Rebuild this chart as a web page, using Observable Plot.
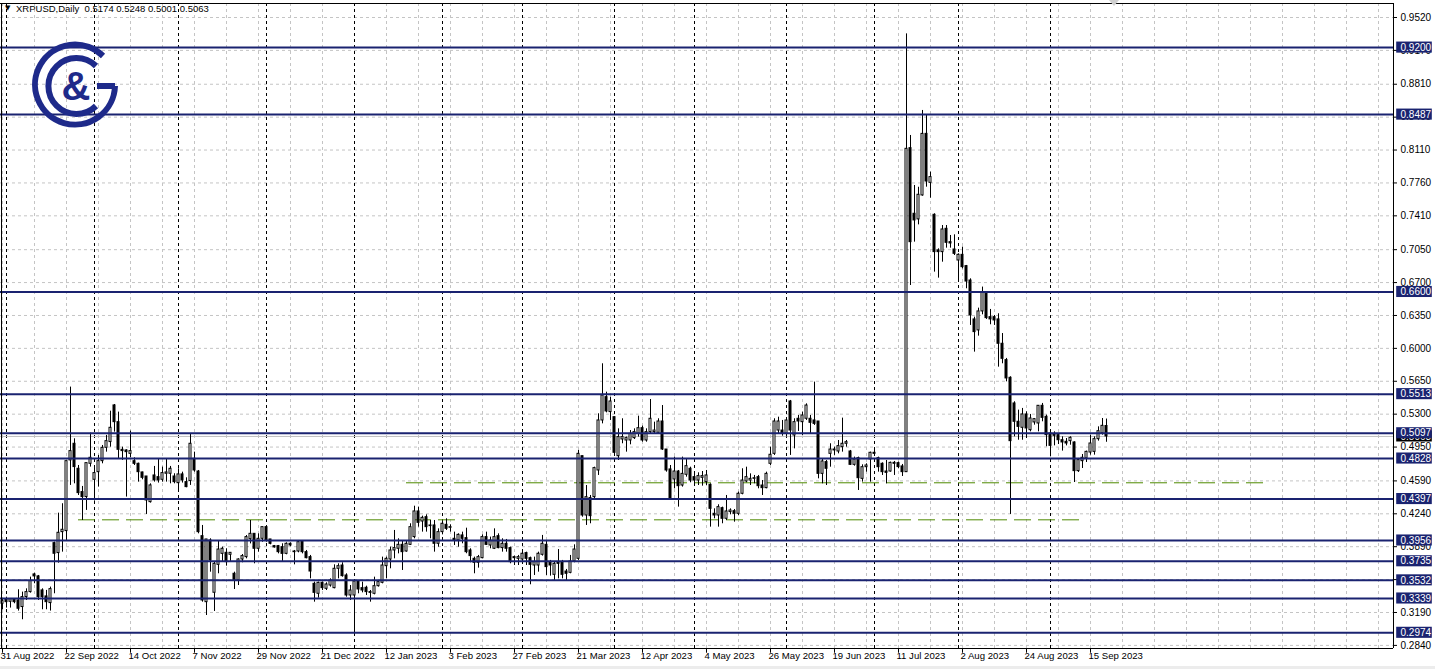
<!DOCTYPE html>
<html><head><meta charset="utf-8">
<script src="https://cdn.jsdelivr.net/npm/d3@7"></script>
<script src="https://cdn.jsdelivr.net/npm/@observablehq/plot@0.6"></script>
<style>
body{margin:0;background:#fff;}
#wrap{position:relative;width:1435px;height:669px;overflow:hidden;background:#fff;}
#hdr{position:absolute;left:16px;top:3px;font:9.5px "Liberation Sans",Arial,sans-serif;color:#000;white-space:pre;}
#tri{position:absolute;left:5px;top:4px;font:7px "DejaVu Sans",sans-serif;color:#000;}
#strip{position:absolute;left:0;top:666px;width:1435px;height:3px;background:#ececec;}
svg.ov{position:absolute;left:0;top:0;pointer-events:none;}
</style></head>
<body><div id="wrap"><div id="chart"></div><div id="strip"></div>
<div id="tri">▼</div>
<div id="hdr">XRPUSD,Daily  0.5174 0.5248 0.5001 0.5063</div>
<svg class="ov" width="1435" height="669">
  <g fill="none" stroke="#1e2a8a" stroke-width="6">
    <path d="M 103 56 A 40 40 0 1 0 115 86"/>
    <line x1="115" y1="86" x2="97" y2="86"/>
    <path d="M 96 66 A 28 28 0 1 0 96 106"/>
  </g>
  <text x="76" y="100" text-anchor="middle" font-family="Liberation Sans, Arial" font-weight="bold" font-size="40" fill="#1e2a8a">&amp;</text>
  <polygon points="1109,0 1119,0 1114,6" fill="#cfcfcf"/>
</svg>
</div>
<script>
// ---------- DATA ----------
const symbol = "XRPUSD,Daily";
const xLabels = ["31 Aug 2022","22 Sep 2022","14 Oct 2022","7 Nov 2022","29 Nov 2022","21 Dec 2022","12 Jan 2023","3 Feb 2023","27 Feb 2023","21 Mar 2023","12 Apr 2023","4 May 2023","26 May 2023","19 Jun 2023","11 Jul 2023","2 Aug 2023","24 Aug 2023","15 Sep 2023"];
const xLabelBars = [0,16,32,48,64,80,96,112,128,144,160,176,192,208,224,240,256,272];
const monthStartBars = [1,23,44,66,88,110,130,153,173,196,218,239,262];
const yTicks = [0.9520,0.9170,0.8810,0.8460,0.8110,0.7760,0.7410,0.7050,0.6700,0.6350,0.6000,0.5650,0.5300,0.4950,0.4590,0.4240,0.3890,0.3540,0.3190,0.2840];
const levels = [0.9200,0.8487,0.6600,0.5513,0.5097,0.4828,0.4397,0.3956,0.3735,0.3532,0.3339,0.2974];
const greenPrices = [0.4570,0.4176];
const greenFrom = [101,19];
const greenTo = [316,270];

const open = [
.3283,.3325,.3304,.3325,.3318,.3248,.3354,.3407,.3595,.3574,.3425,.3361,.3290,.3928,.3822,.4045,.4056,.4808,.4985,.4719,
.4471,.4418,.4772,.4602,.4683,.4800,.4942,.5003,.5393,.5215,.4921,.4914,.4878,.4800,.4772,.4680,.4637,.4364,.4648,.4630,
.4602,.4666,.4666,.4637,.4566,.4659,.4577,.4588,.4825,.4690,.4002,.3300,.3956,.3400,.3697,.3814,.3825,.3804,.3602,.3531,
.3754,.3779,.3970,.4027,.3868,.3974,.4098,.3967,.3896,.3896,.3885,.3814,.3921,.3839,.3839,.3946,.3832,.3779,.3495,.3389,
.3506,.3442,.3477,.3449,.3655,.3690,.3584,.3371,.3371,.3520,.3449,.3453,.3407,.3389,.3470,.3506,.3683,.3754,.3850,.3868,
.3910,.3839,.3910,.3992,.4265,.4158,.4204,.4109,.4116,.3921,.4045,.4123,.4091,.3974,.3956,.4010,.3981,.3850,.3761,.3719,
.3768,.3992,.3903,.3868,.4002,.3875,.3921,.3875,.3779,.3761,.3754,.3822,.3768,.3690,.3690,.3804,.3910,.3726,.3591,.3726,
.3726,.3626,.3612,.3733,.3761,.4853,.4222,.4407,.4417,.4701,.5233,.5481,.5322,.5268,.4853,.5031,.5020,.5020,.5045,.5091,
.5151,.5020,.5109,.5109,.5102,.5222,.4924,.4712,.4605,.4690,.4541,.4655,.4719,.4630,.4594,.4623,.4577,.4548,.4240,.4222,
.4300,.4187,.4258,.4268,.4240,.4453,.4584,.4594,.4612,.4630,.4541,.4513,.4772,.4878,.5126,.5126,.5091,.5435,.5073,.5251,
.5215,.5251,.5251,.5233,.5222,.4665,.4790,.4878,.4914,.4903,.4949,.4985,.4903,.4761,.4832,.4612,.4736,.4818,.4889,.4832,
.4772,.4690,.4690,.4782,.4779,.4744,.4683,.8130,.7432,.7372,.7627,.8282,.7761,.7421,.7042,.7024,.7272,.7130,.7052,.6935,
.6995,.6875,.6722,.6308,.6191,.6393,.6580,.6332,.6332,.6308,.6049,.5875,.5687,.5414,.5219,.5155,.5297,.5130,.5212,.5201,
.5389,.5272,.5094,.5084,.5077,.5023,.5006,.5013,.4999,.4694,.4800,.4829,.4892,.4899,.5034,.5095,.5174];
const high = [
.3336,.3353,.3339,.3332,.3432,.3407,.3442,.3566,.3609,.3584,.3442,.3425,.3460,.3939,.4247,.4347,.4800,.5588,.5038,.4754,
.4531,.4779,.5098,.4737,.4861,.4967,.5074,.5332,.5403,.5322,.4949,.4921,.5120,.4836,.4779,.4683,.4637,.4559,.4744,.4825,
.4737,.4825,.4744,.4666,.4719,.4683,.4623,.5084,.4896,.4701,.4116,.3967,.3974,.3726,.3956,.3885,.3868,.3825,.3619,.3761,
.3807,.4009,.4169,.4027,.4027,.4098,.4109,.3967,.3903,.3903,.3921,.3931,.3931,.3850,.3956,.3956,.3850,.3797,.3513,.3513,
.3513,.3506,.3548,.3697,.3708,.3719,.3602,.3477,.3520,.3520,.3513,.3470,.3424,.3566,.3520,.3779,.3779,.3885,.4063,.3974,
.3946,.3946,.4134,.4321,.4311,.4215,.4229,.4169,.4169,.4080,.4151,.4187,.4123,.4045,.4027,.4045,.4087,.3868,.3779,.3797,
.4016,.4045,.3992,.4080,.4027,.3974,.3967,.3885,.3790,.3797,.3832,.3832,.3779,.3779,.3832,.4010,.3956,.3744,.3726,.3860,
.3744,.3648,.3797,.3910,.4914,.4853,.4541,.4435,.4736,.5304,.5836,.5534,.5481,.5268,.5144,.5251,.5056,.5126,.5144,.5279,
.5173,.5144,.5456,.5215,.5251,.5392,.4924,.4754,.4843,.4701,.4843,.4818,.4736,.4665,.4676,.4690,.4701,.4559,.4293,.4336,
.4311,.4435,.4293,.4286,.4471,.4719,.4736,.4665,.4648,.4648,.4594,.4683,.4949,.5251,.5268,.5233,.5251,.5446,.5251,.5286,
.5321,.5410,.5286,.5641,.5222,.4825,.4807,.4985,.4949,.5020,.5258,.5020,.4914,.4843,.4843,.4761,.4772,.4896,.4931,.4843,
.4782,.4807,.4790,.4797,.4790,.4765,.9346,.8265,.7733,.7714,.8531,.8477,.7875,.7432,.7059,.7307,.7307,.7201,.7208,.7006,
.7077,.6882,.6740,.6332,.6428,.6652,.6598,.6414,.6350,.6368,.6158,.5893,.5698,.5432,.5343,.5361,.5325,.5297,.5254,.5389,
.5414,.5290,.5130,.5112,.5094,.5059,.5041,.5059,.5006,.4829,.4871,.4907,.5077,.5059,.5165,.5254,.5248];
const low = [
.3219,.3237,.3237,.3283,.3205,.3113,.3318,.3396,.3496,.3318,.3219,.3219,.3205,.3389,.3715,.3832,.3957,.4542,.4559,.4435,
.4169,.4276,.4737,.4375,.4524,.4772,.4896,.4949,.5109,.4825,.4808,.4418,.4836,.4754,.4577,.4602,.4233,.4354,.4577,.4567,
.4577,.4577,.4559,.4559,.4471,.4567,.4517,.4542,.4683,.4027,.3300,.3158,.3619,.3201,.3602,.3726,.3683,.3733,.3435,.3477,
.3719,.3761,.3920,.3708,.3832,.3938,.3938,.3910,.3875,.3814,.3733,.3804,.3889,.3697,.3825,.3814,.3761,.3548,.3300,.3343,
.3424,.3424,.3460,.3442,.3548,.3566,.3353,.3318,.2974,.3389,.3399,.3371,.3300,.3378,.3460,.3495,.3548,.3655,.3761,.3814,
.3637,.3832,.3903,.3974,.4098,.4045,.4045,.3974,.3832,.3885,.4016,.4063,.4045,.3903,.3885,.3921,.3815,.3719,.3602,.3662,
.3761,.3903,.3868,.3860,.3868,.3832,.3832,.3708,.3690,.3690,.3719,.3690,.3485,.3584,.3619,.3790,.3584,.3577,.3531,.3548,
.3548,.3531,.3602,.3719,.3744,.4204,.4116,.4134,.4400,.4648,.5197,.5314,.5233,.4861,.4807,.4985,.4896,.4974,.5031,.5056,
.5002,.5002,.5091,.5091,.5091,.4914,.4683,.4382,.4506,.4311,.4524,.4630,.4570,.4534,.4541,.4534,.4541,.4098,.4187,.4098,
.4134,.4169,.4229,.4151,.4222,.4442,.4570,.4541,.4559,.4506,.4435,.4506,.4754,.4861,.5091,.5066,.5056,.4861,.4931,.5116,
.5073,.5233,.5091,.5180,.4612,.4559,.4541,.4736,.4861,.4878,.4896,.4949,.4754,.4747,.4488,.4577,.4683,.4577,.4860,.4683,
.4648,.4559,.4683,.4648,.4719,.4637,.4683,.6669,.7130,.7314,.7619,.7715,.7598,.6811,.6747,.6917,.7066,.7066,.6988,.6722,
.6846,.6634,.6244,.5960,.6130,.6357,.6308,.6251,.6244,.5800,.5836,.5644,.4233,.5059,.5023,.5023,.5041,.5112,.5183,.5112,
.5219,.4953,.4846,.4963,.4977,.4907,.4963,.4970,.4573,.4680,.4722,.4786,.4864,.4864,.5013,.5077,.5001];
const close = [
.3311,.3300,.3332,.3300,.3230,.3354,.3407,.3524,.3574,.3354,.3354,.3300,.3439,.3815,.4038,.4070,.4800,.4907,.4737,.4460,
.4418,.4779,.4836,.4673,.4800,.4942,.5013,.5155,.5215,.4921,.4907,.4896,.4907,.4772,.4683,.4623,.4382,.4542,.4595,.4595,
.4673,.4680,.4719,.4577,.4659,.4595,.4524,.4985,.4701,.4045,.3318,.3967,.3743,.3708,.3860,.3868,.3726,.3825,.3531,.3754,
.3790,.3992,.4027,.3868,.3974,.4098,.3956,.3921,.3882,.3832,.3814,.3921,.3903,.3832,.3938,.3832,.3768,.3626,.3399,.3506,
.3449,.3488,.3531,.3655,.3683,.3577,.3371,.3424,.3520,.3435,.3424,.3407,.3399,.3470,.3513,.3690,.3761,.3850,.3875,.3910,
.3832,.3921,.4098,.4265,.4144,.4197,.4098,.4116,.3921,.4045,.4134,.4080,.4098,.3956,.4016,.3974,.3832,.3790,.3719,.3779,
.3992,.3910,.3956,.3992,.3875,.3921,.3868,.3726,.3768,.3779,.3815,.3761,.3697,.3726,.3815,.3921,.3673,.3690,.3708,.3708,
.3591,.3602,.3733,.3860,.4878,.4222,.4417,.4215,.4726,.5233,.5499,.5329,.5435,.4889,.5056,.5056,.5045,.5091,.5109,.5151,
.5020,.5109,.5251,.5126,.5222,.4924,.4701,.4400,.4690,.4534,.4665,.4747,.4594,.4594,.4641,.4641,.4648,.4293,.4222,.4311,
.4187,.4265,.4275,.4240,.4453,.4594,.4630,.4612,.4619,.4534,.4513,.4665,.4868,.5222,.5222,.5091,.5233,.5126,.5215,.5222,
.5286,.5392,.5208,.5197,.4665,.4797,.4719,.4924,.4924,.4960,.4985,.5002,.4761,.4818,.4619,.4736,.4754,.4889,.4878,.4736,
.4683,.4676,.4782,.4772,.4737,.4683,.8123,.7130,.7361,.7634,.8282,.7775,.7822,.7024,.7024,.7265,.7123,.7116,.7006,.6995,
.6864,.6711,.6350,.6173,.6393,.6598,.6322,.6308,.6297,.6049,.5889,.5680,.5013,.5219,.5165,.5297,.5148,.5254,.5247,.5389,
.5261,.5077,.4963,.5070,.5023,.4999,.4988,.5048,.4694,.4811,.4836,.4899,.4988,.5034,.5119,.5176,.5063];

// ---------- BUILD ----------
const bars = close.map((c, i) => ({i, o: open[i], h: high[i], l: low[i], c}));
const bulls = bars.filter(d => d.c > d.o);
const bears = bars.filter(d => d.c < d.o);
const dojis = bars.filter(d => d.c === d.o);
const last = bars[bars.length - 1];
const greens = greenPrices.map((p, k) => ({p, a: greenFrom[k], b: greenTo[k]}));
const xl = xLabels.map((t, k) => ({t, i: xLabelBars[k]}));

const AX = 347.75;        // right price axis (bar units)
const X0 = -0.5;
const Y0 = 0.2807, Y1 = 0.9669;
const NAVY = "#1a2370";
const FONT = "Liberation Sans, Arial, sans-serif";
const BH = 0.0059;        // half-height of price boxes (price units)
const gridBars = d3.range(0, 348, 8);

const chart = Plot.plot({
  width: 1435, height: 669,
  marginLeft: 0, marginRight: 0, marginTop: 3, marginBottom: 21,
  x: {domain: [X0, 358.25], axis: null},
  y: {domain: [Y0, Y1], axis: null},
  style: {background: "#fff", fontFamily: FONT, fontSize: "10px", color: "#000"},
  marks: [
    // grid
    Plot.ruleY(yTicks, {y: d => d, x1: () => X0, x2: () => AX, stroke: "#c4c4c4", strokeDasharray: "3,3"}),
    Plot.ruleX(gridBars, {x: d => d, y1: () => Y0, y2: () => Y1, stroke: "#c4c4c4", strokeDasharray: "3,3"}),
    Plot.ruleX(monthStartBars, {x: d => d, y1: () => Y0, y2: () => Y1, stroke: "#000", strokeDasharray: "3,3"}),
    // current price line
    Plot.ruleY([last.c], {y: d => d, x1: () => X0, x2: () => AX, stroke: "#c0c0c0"}),
    // green dashed lines
    Plot.ruleY(greens, {y: "p", x1: "a", x2: "b", stroke: "#4f8a00", strokeDasharray: "17,7"}),
    // candles
    Plot.ruleX(bars, {x: "i", y1: "l", y2: "h", stroke: "#000"}),
    Plot.rect(bulls, {x1: d => d.i - 0.25, x2: d => d.i + 0.25, y1: "o", y2: "c", fill: "#fff", stroke: "#000"}),
    Plot.rect(bears, {x1: d => d.i - 0.25, x2: d => d.i + 0.25, y1: "o", y2: "c", fill: "#000", stroke: "#000"}),
    Plot.ruleY(dojis, {y: "c", x1: d => d.i - 0.25, x2: d => d.i + 0.25, stroke: "#000"}),
    // horizontal levels
    Plot.ruleY(levels, {y: d => d, x1: () => X0, x2: () => AX, stroke: NAVY, strokeWidth: 2}),
    // frame
    Plot.ruleX([X0 + 0.25, AX], {x: d => d, y1: () => Y0, y2: () => Y1, stroke: "#000"}),
    Plot.ruleY([Y0, Y1], {y: d => d, x1: () => X0, x2: () => AX, stroke: "#000"}),
    // y axis ticks + labels
    Plot.ruleY(yTicks, {y: d => d, x1: () => AX, x2: () => AX + 1, stroke: "#000"}),
    Plot.text(yTicks, {x: () => AX, y: d => d, text: d => d.toFixed(4), dx: 7, textAnchor: "start", fill: "#000", fontSize: 10}),
    // current price box
    Plot.rect([last.c], {x1: () => AX + 0.8, x2: () => AX + 9.7, y1: d => d - BH, y2: d => d + BH, fill: "#000"}),
    Plot.text([last.c], {x: () => AX, y: d => d, text: d => d.toFixed(4), dx: 7, textAnchor: "start", fill: "#fff", fontSize: 10}),
    // level boxes
    Plot.rect(levels, {x1: () => AX + 0.8, x2: () => AX + 9.7, y1: d => d - BH, y2: d => d + BH, fill: NAVY}),
    Plot.text(levels, {x: () => AX, y: d => d, text: d => d.toFixed(4), dx: 7, textAnchor: "start", fill: "#fff", fontSize: 10}),
    // x axis
    Plot.ruleX(xLabelBars, {x: d => d, y1: () => Y0, y2: () => Y0 - 0.005, stroke: "#000"}),
    Plot.text(xl, {x: "i", frameAnchor: "bottom", text: "t", dy: 10, dx: -2, textAnchor: "start", fill: "#000", fontSize: 9.6})
  ]
});
document.getElementById("chart").appendChild(chart);
</script>
</body></html>
